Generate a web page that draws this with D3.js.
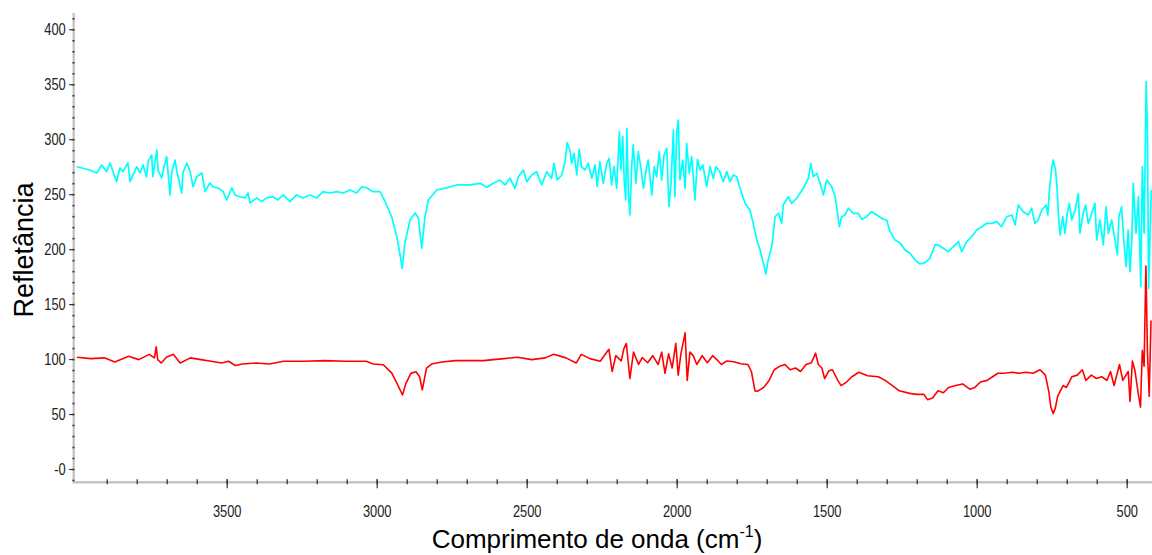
<!DOCTYPE html>
<html><head><meta charset="utf-8">
<script src="https://cdn.jsdelivr.net/npm/d3@7/dist/d3.min.js"></script>
<style>body{margin:0;background:#fff;overflow:hidden}</style>
</head><body><svg id="c" width="1152" height="555"></svg>
<script>
// wavenumber (cm-1), reflectance
const cyanSpectrum = [[4000,275.0],[3956,272.0],[3933,269.3],[3917,276.6],[3900,270.5],[3889,278.4],[3867,261.4],[3856,273.9],[3846,270.5],[3829,278.4],[3822,261.4],[3800,275.0],[3789,269.3],[3779,276.6],[3767,265.9],[3762,279.6],[3750,285.7],[3746,265.9],[3733,290.2],[3729,272.0],[3717,264.8],[3706,278.4],[3700,284.1],[3689,249.3],[3683,270.5],[3672,281.1],[3667,272.0],[3650,251.1],[3646,269.3],[3633,278.4],[3622,270.5],[3612,256.8],[3600,265.9],[3583,269.3],[3572,252.3],[3556,260.2],[3546,256.8],[3529,255.7],[3512,252.3],[3500,244.7],[3483,255.7],[3472,249.3],[3456,247.7],[3439,246.6],[3429,251.1],[3422,242.0],[3400,246.6],[3383,243.2],[3367,246.6],[3346,247.7],[3329,244.7],[3312,249.3],[3289,243.2],[3267,249.3],[3246,246.6],[3222,249.3],[3200,246.6],[3179,252.3],[3156,251.1],[3133,252.3],[3112,251.1],[3089,253.8],[3067,251.1],[3050,256.8],[3033,255.7],[3012,252.3],[2989,252.3],[2972,243.2],[2950,229.5],[2933,211.3],[2922,194.7],[2915,182.6],[2906,205.6],[2889,226.5],[2872,232.9],[2861,228.4],[2850,200.8],[2839,229.5],[2828,244.7],[2800,253.8],[2767,255.7],[2733,258.4],[2689,258.4],[2656,259.9],[2633,256.3],[2611,259.9],[2589,262.9],[2572,258.4],[2556,264.5],[2539,255.4],[2528,265.9],[2511,272.0],[2500,261.4],[2483,267.5],[2467,270.5],[2450,258.4],[2433,270.5],[2417,264.5],[2409,278.1],[2398,262.9],[2383,267.5],[2372,279.6],[2365,296.9],[2356,290.2],[2350,278.1],[2342,287.2],[2333,267.5],[2325,290.9],[2317,275.0],[2306,272.0],[2295,278.1],[2283,264.5],[2272,276.6],[2265,256.8],[2256,279.6],[2245,259.9],[2233,278.1],[2225,282.7],[2217,258.4],[2209,275.0],[2200,255.4],[2191,306.9],[2186,272.0],[2180,302.3],[2175,262.9],[2170,244.7],[2166,310.0],[2161,250.8],[2156,231.1],[2150,275.0],[2145,294.8],[2136,259.9],[2128,288.7],[2120,275.0],[2111,255.4],[2102,272.0],[2095,281.1],[2083,249.3],[2075,275.0],[2067,265.9],[2058,288.7],[2050,262.9],[2042,285.7],[2033,291.8],[2026,238.6],[2019,259.9],[2011,308.4],[2006,247.7],[2000,305.4],[1995,317.5],[1989,262.9],[1980,281.1],[1972,255.4],[1967,296.3],[1958,269.0],[1950,284.1],[1939,244.7],[1931,281.8],[1922,272.0],[1913,276.6],[1900,256.8],[1889,275.0],[1878,264.5],[1869,275.0],[1856,270.5],[1845,261.4],[1833,270.5],[1822,261.4],[1811,267.5],[1800,265.9],[1789,255.4],[1772,241.7],[1756,235.6],[1745,223.5],[1733,208.3],[1722,199.2],[1711,187.1],[1703,177.4],[1695,190.2],[1683,202.3],[1672,229.5],[1661,232.6],[1650,223.5],[1645,240.2],[1628,247.7],[1617,241.7],[1600,246.3],[1578,255.4],[1561,264.5],[1553,278.1],[1545,265.9],[1533,269.0],[1522,259.9],[1511,249.3],[1500,262.9],[1483,256.8],[1472,247.7],[1467,238.6],[1458,220.4],[1450,229.5],[1439,231.1],[1428,237.2],[1411,232.6],[1395,232.6],[1383,227.2],[1367,229.5],[1350,234.1],[1333,231.1],[1311,227.2],[1300,226.5],[1289,215.9],[1272,208.3],[1256,205.9],[1239,199.2],[1222,196.2],[1206,190.2],[1189,186.5],[1172,187.7],[1156,191.7],[1139,203.8],[1128,203.8],[1111,200.8],[1095,197.7],[1078,202.3],[1061,206.8],[1050,197.7],[1033,206.8],[1017,211.3],[1000,217.4],[983,220.4],[967,223.5],[950,223.5],[933,225.0],[917,220.4],[900,229.5],[883,231.1],[872,222.0],[861,240.2],[845,234.1],[828,231.1],[817,237.2],[806,223.5],[795,226.5],[783,235.6],[769,240.2],[763,231.1],[758,252.3],[750,273.6],[745,281.1],[737,272.0],[731,250.8],[728,232.6],[722,212.9],[713,229.5],[706,214.4],[698,232.6],[691,241.7],[683,226.5],[672,235.6],[661,250.8],[656,214.4],[645,232.6],[637,240.2],[628,223.5],[620,229.5],[606,241.7],[600,208.3],[589,226.5],[578,203.8],[569,238.6],[561,214.4],[550,226.5],[539,208.3],[531,194.7],[526,229.5],[517,238.6],[509,205.3],[502,184.1],[495,217.4],[489,179.5],[483,208.3],[478,259.9],[469,214.4],[461,247.7],[453,165.9],[448,275.0],[442,214.4],[438,293.2],[435,352.4],[431,308.4],[427,164.4],[422,214.4],[418,253.8]];

const redSpectrum = [[3999,101.7],[3953,100.4],[3908,101.1],[3873,97.4],[3827,102.6],[3793,99.5],[3758,104.3],[3741,101.1],[3735,111.1],[3730,99.5],[3718,96.4],[3701,101.7],[3678,104.3],[3655,96.4],[3621,101.1],[3586,99.5],[3552,98.0],[3517,96.4],[3494,98.0],[3471,94.2],[3448,95.5],[3402,96.4],[3357,95.5],[3311,98.0],[3242,98.0],[3173,98.6],[3104,98.0],[3035,98.0],[3012,95.5],[2978,94.8],[2949,87.0],[2932,77.6],[2914,67.3],[2903,77.6],[2886,87.0],[2869,88.5],[2857,83.9],[2848,72.0],[2834,91.7],[2817,95.5],[2783,97.4],[2737,98.6],[2645,98.6],[2576,100.4],[2530,101.7],[2484,99.5],[2438,101.1],[2410,104.3],[2369,101.1],[2335,96.4],[2318,104.3],[2289,100.4],[2255,98.0],[2226,108.9],[2215,88.7],[2203,103.1],[2185,98.3],[2176,109.5],[2168,114.3],[2156,82.3],[2144,106.3],[2127,95.1],[2115,101.4],[2097,96.7],[2080,103.1],[2062,95.1],[2050,106.3],[2039,87.1],[2027,104.7],[2015,91.9],[2003,114.3],[1995,85.4],[1986,104.7],[1972,123.9],[1965,80.6],[1956,106.3],[1945,103.1],[1933,95.1],[1915,103.1],[1898,96.7],[1880,103.1],[1862,98.3],[1851,95.1],[1833,98.3],[1810,97.6],[1786,95.7],[1763,95.1],[1751,88.7],[1739,71.1],[1730,70.8],[1710,74.2],[1692,80.6],[1675,90.3],[1657,93.4],[1639,95.1],[1622,90.3],[1604,91.9],[1587,88.7],[1569,95.1],[1551,96.7],[1537,105.4],[1528,95.1],[1516,91.9],[1507,82.3],[1493,89.3],[1481,90.3],[1463,80.6],[1452,75.9],[1434,79.1],[1416,83.9],[1393,88.0],[1364,84.8],[1328,83.9],[1305,80.6],[1281,75.9],[1258,71.1],[1223,68.8],[1199,67.9],[1176,67.9],[1164,63.1],[1147,64.6],[1129,71.1],[1111,69.4],[1094,74.2],[1070,75.9],[1047,77.4],[1023,72.6],[1006,74.2],[988,79.1],[965,80.6],[947,83.9],[929,87.1],[906,87.1],[882,88.0],[859,87.1],[835,88.0],[812,87.1],[789,90.3],[771,85.4],[759,69.4],[753,56.4],[745,50.4],[738,55.4],[730,66.2],[712,75.9],[701,74.2],[683,83.9],[665,85.4],[648,90.3],[636,80.6],[618,85.4],[601,82.3],[583,83.9],[566,80.6],[554,88.7],[542,75.9],[524,95.1],[513,80.6],[495,88.7],[489,61.4],[481,98.3],[472,88.7],[462,69.4],[454,56.2],[448,107.9],[442,93.4],[436,184.7],[431,107.9],[425,66.1],[419,135.1]];

const xMajorTicks = [3500,3000,2500,2000,1500,1000,500];
const xMinorTicks = d3.range(3900, 499, -100);
const yMajorTicks = [0,50,100,150,200,250,300,350,400];
const yTickLabels = ["-0","50","100","150","200","250","300","350","400"];
const yMinorTicks = d3.range(-10, 411, 10);
const xTitle = "Comprimento de onda (cm";
const xTitleSup = "-1";
const yTitle = "Refletância";

const svg = d3.select("#c");
const x = d3.scaleLinear().domain([4000, 400]).range([76.7, 1156.7]);
const y = d3.scaleLinear().domain([0, 400]).range([469, 29.3]);

const axisX = 73.7, axisY = 482.3, plotRight = 1152, plotTop = 13;
const sans = "'Liberation Sans',Arial,sans-serif";

svg.append("defs").append("clipPath").attr("id","clip")
  .append("rect").attr("x", axisX + 1).attr("y", plotTop).attr("width", plotRight - axisX).attr("height", axisY - plotTop - 1.5);

// axis bands
svg.append("line").attr("x1", axisX).attr("x2", axisX).attr("y1", plotTop).attr("y2", axisY)
  .attr("stroke", "#c4c4c4").attr("stroke-width", 2.4);
svg.append("line").attr("x1", axisX - 1.2).attr("x2", plotRight).attr("y1", axisY).attr("y2", axisY)
  .attr("stroke", "#c4c4c4").attr("stroke-width", 2.6);

// y minor ticks
const yMinor = svg.append("g").attr("transform", `translate(${axisX + 0.8},0)`)
  .call(d3.axisLeft(y).tickValues(yMinorTicks).tickSize(2).tickFormat(""));
yMinor.select(".domain").remove();
yMinor.selectAll("line").attr("stroke", "#333").attr("stroke-width", 1.6);

// y major ticks + labels
const yAx = svg.append("g").attr("transform", `translate(${axisX},0)`)
  .call(d3.axisLeft(y).tickValues(yMajorTicks).tickSize(4.5).tickPadding(3.5)
    .tickFormat((d, i) => yTickLabels[i]));
yAx.select(".domain").remove();
yAx.selectAll("line").attr("stroke", "#333").attr("stroke-width", 1.2);
yAx.selectAll("text").attr("font-family", sans).attr("font-size", 16.5).attr("fill", "#222")
  .attr("x", 0).attr("transform", "translate(-8,0) scale(0.78,1)");

// x minor ticks
const xMinor = svg.append("g").attr("transform", `translate(0,${axisY - 3})`)
  .call(d3.axisBottom(x).tickValues(xMinorTicks).tickSize(5).tickFormat(""));
xMinor.select(".domain").remove();
xMinor.selectAll("line").attr("stroke", "#333").attr("stroke-width", 1.3);

// x major ticks + labels
const xAx = svg.append("g").attr("transform", `translate(0,${axisY - 3})`)
  .call(d3.axisBottom(x).tickValues(xMajorTicks).tickSize(9).tickPadding(17).tickFormat(d3.format("d")));
xAx.select(".domain").remove();
xAx.selectAll("line").attr("stroke", "#333").attr("stroke-width", 1.2);
xAx.selectAll("text").attr("font-family", sans).attr("font-size", 16.5).attr("fill", "#222")
  .attr("transform", "scale(0.78,1)");

// lines
const line = d3.line().x(d => x(d[0])).y(d => y(d[1]));
const g = svg.append("g").attr("clip-path", "url(#clip)");
g.append("path").datum(cyanSpectrum).attr("d", line).attr("fill", "none")
  .attr("stroke", "#00ffff").attr("stroke-width", 1.7).attr("stroke-linejoin", "round");
g.append("path").datum(redSpectrum).attr("d", line).attr("fill", "none")
  .attr("stroke", "#ff0000").attr("stroke-width", 1.6).attr("stroke-linejoin", "round");

// titles
const xt = svg.append("text").attr("x", 597).attr("y", 548).attr("text-anchor", "middle")
  .attr("font-family", sans).attr("font-size", 26).attr("fill", "#000");
xt.append("tspan").text(xTitle);
xt.append("tspan").attr("dy", -11).attr("font-size", 16).text(xTitleSup);
xt.append("tspan").attr("dy", 11).text(")");

svg.append("text").attr("transform", "translate(33,250) rotate(-90)").attr("text-anchor", "middle")
  .attr("font-family", sans).attr("font-size", 27).attr("fill", "#000")
  .text(yTitle);
</script></body></html>
